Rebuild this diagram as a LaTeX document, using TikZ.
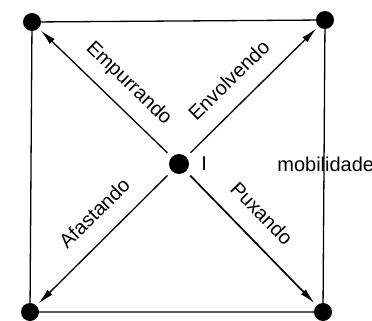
\documentclass[tikz,border=0pt]{standalone}
\usepackage{fontspec}
\setmainfont{Liberation Sans}
\usetikzlibrary{arrows.meta,positioning}
\tikzstyle{corner}=[circle, fill=black, minimum size=18pt, inner sep=0pt, outer sep=3pt]
\tikzstyle{hub}=[circle, fill=black, minimum size=20pt, inner sep=0pt]
\tikzstyle{side}=[line width=1.3pt]
\tikzstyle{connect}=[-{Latex[length=16pt,width=7pt]}, line width=1.3pt, shorten <=6pt]
\tikzstyle{word}=[font=\fontsize{20}{23}\selectfont, inner sep=0pt, text depth=0pt]

\begin{document}
\begin{tikzpicture}[x=1pt,y=-1pt]
  \useasboundingbox (0,0) rectangle (372,321);
  \node[hub]    (I)  at (179,164) {};
  \node[corner] (TL) at (32,22)   {};
  \node[corner] (TR) at (325,20)  {};
  \node[corner] (BL) at (30,312)  {};
  \node[corner] (BR) at (323,312) {};
  \node[word] (lblI) [right=12pt of I] {I};
  \node[word] (mob) [right=70pt of lblI] {mobilidade};

  \draw[side] (TL.center) -- (TR.center) -- (BR.center) -- (BL.center) -- cycle;

  \path (I) edge [connect] node [word, pos=.45, sloped, above=17pt] {Empurrando} (TL)
        (I) edge [connect] node [word, pos=.46, sloped, above=17pt] {Envolvendo} (TR)
        (I) edge [connect] node [word, pos=.45, sloped, above=17pt] {Afastando} (BL)
        (I) edge [connect, line width=1.7pt] node [word, pos=.45, sloped, above=17pt] {Puxando} (BR);
\end{tikzpicture}
\end{document}
